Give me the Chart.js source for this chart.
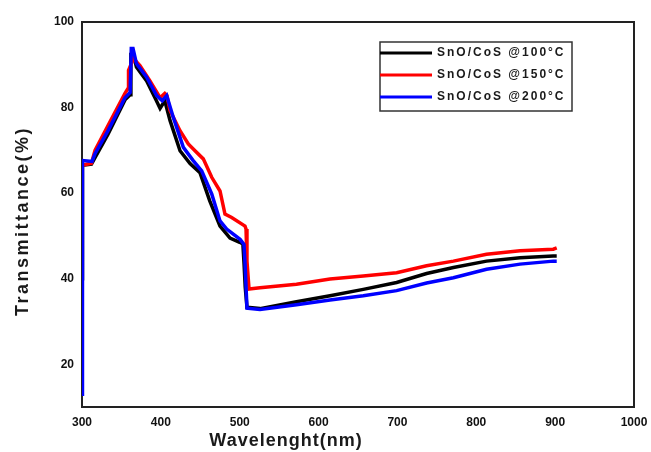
<!DOCTYPE html>
<html>
<head>
<meta charset="utf-8">
<script src="https://cdn.jsdelivr.net/npm/chart.js@4"></script>
<style>
  html, body { margin: 0; padding: 0; background: #fff; }
  #wrap { width: 651px; height: 452px; }
</style>
</head>
<body>
<div id="wrap"><canvas id="myChart" width="651" height="452"></canvas></div>
<script>
// wavelength (nm) / transmittance (%)
var labels = ['SnO/CoS @100°C', 'SnO/CoS @150°C', 'SnO/CoS @200°C'];
var colors = ['#000000', '#ff0000', '#0000ff'];

var wl100 = [300, 300.6, 312, 316.5, 333, 354.5, 361, 362, 364.7, 369, 382, 394.7, 399, 405, 411.6, 424.3, 437, 449.6, 462, 475, 487.7, 500, 504, 505.5, 507, 509.2, 525.7, 572, 614.5, 656.7, 699, 737, 771, 813, 855.5, 897.6, 902];
var tr100 = [40, 66.5, 66.8, 68.3, 73.8, 81.8, 83, 92.5, 92.8, 89.5, 86.2, 81.5, 79.8, 81.6, 77, 69.9, 66.9, 64.8, 58.2, 52.3, 49.5, 48.5, 48.1, 43.5, 38, 33.3, 33.0, 34.6, 36.0, 37.5, 39.1, 41.2, 42.6, 44.1, 44.9, 45.3, 45.3];

var wl150 = [300, 300.6, 312, 316.5, 333, 354.5, 358.5, 359, 362, 365, 373.5, 386, 399, 405, 407.8, 411.6, 424.3, 434.8, 443.3, 453.8, 464.5, 475, 481.3, 489.8, 506.7, 508, 509.2, 511.8, 525.7, 572, 614.5, 656.7, 699, 737, 771, 813, 855.5, 897.6, 902];
var tr150 = [66.5, 66.5, 67, 70, 75.8, 83.3, 84.5, 88.7, 90, 91.5, 89.8, 86.3, 82.3, 83.3, 82.8, 79.3, 74.6, 71.5, 69.9, 68, 63.7, 60.5, 55.1, 54.3, 52.3, 51.6, 44.1, 37.6, 37.9, 38.7, 39.9, 40.6, 41.4, 43, 44.1, 45.7, 46.5, 46.9, 47.2];

var wl200 = [300, 300.6, 312.7, 316.5, 333, 354.5, 361, 362.5, 364.7, 369, 382, 394.7, 401.8, 407.4, 415.8, 428.5, 441, 451.8, 464.5, 475, 483.5, 500.4, 505.4, 506.7, 509.2, 525.7, 572, 614.5, 656.7, 699, 737, 771, 813, 855.5, 897.6, 902];
var tr200 = [13, 67.6, 67.4, 69.2, 74.6, 82.3, 83.5, 93.8, 93.8, 90.3, 87.1, 82.8, 81.6, 82.8, 77.7, 70.7, 67.6, 65.2, 59.8, 53.5, 51.6, 49.2, 48, 43.7, 33.1, 32.8, 33.9, 35.0, 36.0, 37.2, 39.0, 40.2, 42.2, 43.4, 44.1, 44.1];

var xTicks = [300, 400, 500, 600, 700, 800, 900, 1000];
var yTicks = [20, 40, 60, 80, 100];

function pts(xs, ys) {
  return xs.map(function (x, i) { return { x: x, y: ys[i] }; });
}

var FONT = "'Liberation Sans', Arial, sans-serif";

// frame round the plot, legend box and axis titles
var decor = {
  id: 'decor',
  beforeDatasetsDraw: function (chart) {
    var ctx = chart.ctx, a = chart.chartArea;
    ctx.save();
    ctx.strokeStyle = '#222';
    ctx.lineWidth = 2;
    ctx.strokeRect(a.left, a.top, a.right - a.left, a.bottom - a.top);
    ctx.restore();
  },
  afterDraw: function (chart) {
    var ctx = chart.ctx, a = chart.chartArea;
    ctx.save();
    // legend
    var bx = a.left + 298, by = a.top + 20;
    ctx.fillStyle = '#fff';
    ctx.fillRect(bx, by, 192, 69);
    ctx.strokeStyle = '#333';
    ctx.lineWidth = 1.5;
    ctx.strokeRect(bx, by, 192, 69);
    ctx.font = 'bold 12px ' + FONT;
    ctx.textBaseline = 'middle';
    ctx.letterSpacing = '2px';
    chart.data.datasets.forEach(function (ds, i) {
      var y = by + 11 + i * 22;
      ctx.strokeStyle = ds.borderColor;
      ctx.lineWidth = 3;
      ctx.beginPath();
      ctx.moveTo(bx, y);
      ctx.lineTo(bx + 52, y);
      ctx.stroke();
      ctx.fillStyle = '#1a1a1a';
      ctx.fillText(ds.label, bx + 57, y);
    });
    // x axis title
    ctx.font = 'bold 18px ' + FONT;
    ctx.letterSpacing = '1px';
    ctx.textAlign = 'center';
    ctx.fillStyle = '#1a1a1a';
    ctx.fillText('Wavelenght(nm)', 286, 441);
    // y axis title
    ctx.translate(23, 221);
    ctx.rotate(-Math.PI / 2);
    ctx.letterSpacing = '2.5px';
    ctx.fillText('Transmittance(%)', 0, 0);
    ctx.restore();
  }
};

var ctx = document.getElementById('myChart').getContext('2d');
var myChart = new Chart(ctx, {
  type: 'line',
  data: {
    datasets: [
      { label: labels[0], data: pts(wl100, tr100), borderColor: colors[0], order: 2 },
      { label: labels[1], data: pts(wl150, tr150), borderColor: colors[1], order: 1 },
      { label: labels[2], data: pts(wl200, tr200), borderColor: colors[2], order: 0 }
    ]
  },
  options: {
    responsive: false,
    animation: false,
    layout: { padding: { left: 0, right: 17, top: 22, bottom: 0 } },
    elements: {
      line: { borderWidth: 3.5, tension: 0, fill: false, borderJoinStyle: 'miter' },
      point: { radius: 0 }
    },
    plugins: {
      legend: { display: false },
      tooltip: { enabled: false }
    },
    scales: {
      x: {
        type: 'linear',
        min: 300, max: 1000,
        grid: { display: false, drawTicks: false },
        border: { display: false },
        afterFit: function (s) { s.height = 45; s.paddingLeft = 0; s.paddingRight = 0; },
        afterBuildTicks: function (s) { s.ticks = xTicks.map(function (v) { return { value: v }; }); },
        ticks: {
          padding: 8,
          color: '#111',
          font: { family: FONT, size: 12, weight: 'bold' },
          maxRotation: 0,
          callback: function (v) { return String(v); }
        }
      },
      y: {
        min: 10, max: 100,
        grid: { display: false, drawTicks: false },
        border: { display: false },
        afterFit: function (s) { s.width = 82; s.paddingTop = 0; s.paddingBottom = 0; },
        afterBuildTicks: function (s) { s.ticks = yTicks.map(function (v) { return { value: v }; }); },
        ticks: {
          padding: 8,
          color: '#111',
          font: { family: FONT, size: 12, weight: 'bold' }
        }
      }
    }
  },
  plugins: [decor]
});
</script>
</body>
</html>
